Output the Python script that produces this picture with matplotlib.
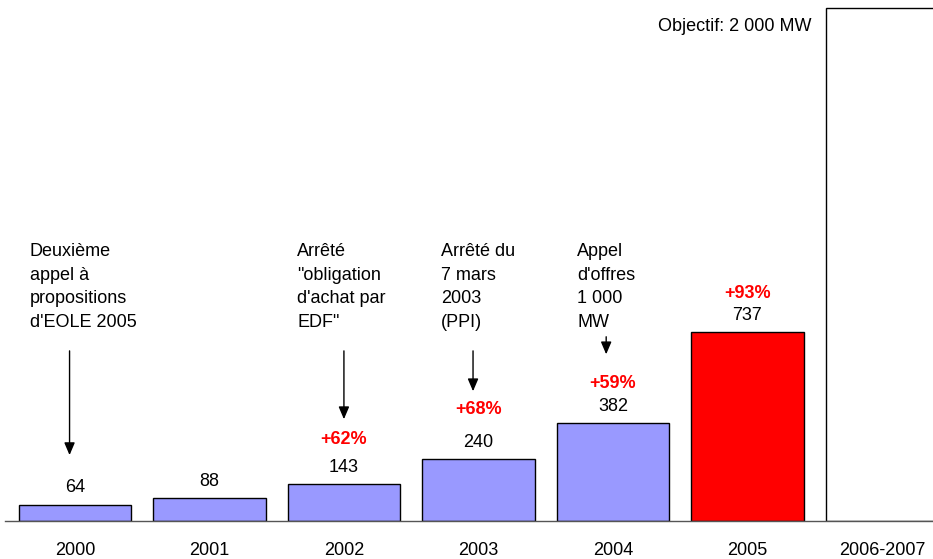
import matplotlib.pyplot as plt

plt.rcParams['font.family'] = ['Liberation Sans', 'DejaVu Sans']

# donnees : puissance eolienne installee (MW)
years = ['2000', '2001', '2002', '2003', '2004', '2005', '2006-2007']
values = [64, 88, 143, 240, 382, 737]
objective = 2000
growth = {2: '+62%', 3: '+68%', 4: '+59%', 5: '+93%'}

notes = ["Deuxième\nappel à\npropositions\nd'EOLE 2005",
         "Arrêté\n\"obligation\nd'achat par\nEDF\"",
         "Arrêté du\n7 mars\n2003\n(PPI)",
         "Appel\nd'offres\n1 000\nMW"]

# mise en page (positions en donnees)
note_x = [-0.335, 1.652, 2.723, 3.735]
arrow_x = [-0.04, 2.0, 2.96, 3.95]
arrow_top = [674, 674, 674, 729]
arrow_bot = [246, 386, 495, 639]
pct_gap = [0, 0, 28, 33, 23, 22]

fs = 13

fig = plt.figure(figsize=(9.33, 5.59), dpi=100)
ax = fig.add_axes([5 / 933, 1 - 521 / 559, 1 - 5 / 933, 521 / 559])

colors = ['#9999FF'] * 5 + ['#FF0000']
ax.bar(range(len(values)), values, width=0.835, color=colors,
       edgecolor='black', linewidth=1, zorder=2)
ax.bar(6, objective, width=0.835, color='white', edgecolor='black',
       linewidth=1, zorder=2)

for i, v in enumerate(values):
    ax.annotate(str(v), (i, v), xytext=(0, 12), textcoords='offset points',
                ha='center', va='center', fontsize=fs)
    if i in growth:
        ax.annotate(growth[i], (i, v), xytext=(0, 12 + pct_gap[i] / 1.389),
                    textcoords='offset points', ha='center', va='center',
                    fontsize=fs, color='#FF0000', fontweight='bold')

for k, txt in enumerate(notes):
    ax.text(note_x[k], 1082, txt, ha='left', va='top', fontsize=fs,
            linespacing=1.5)
    ax.annotate('', xy=(arrow_x[k], arrow_bot[k]), xytext=(arrow_x[k], arrow_top[k]),
                arrowprops=dict(arrowstyle='-|>,head_length=0.75,head_width=0.32',
                                color='black', lw=1))

ax.text(5.476, objective - 74, 'Objectif: 2 000 MW', ha='right', va='center',
        fontsize=fs)

ax.set_xlim(-0.52, 6.38)
ax.set_ylim(0, 2031)
ax.set_xticks(range(len(years)))
ax.set_xticklabels(years, fontsize=fs)
ax.tick_params(axis='x', length=0, pad=15)
ax.set_yticks([])
for s in ['top', 'left', 'right']:
    ax.spines[s].set_visible(False)
ax.spines['bottom'].set_color('#555555')
ax.spines['bottom'].set_linewidth(1)

fig.savefig('out.png', dpi=100)
